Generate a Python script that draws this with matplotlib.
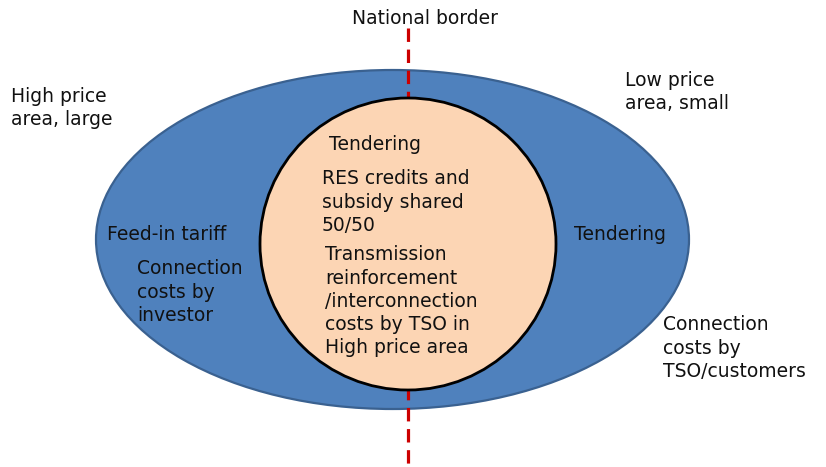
import matplotlib.pyplot as plt
from matplotlib.patches import Ellipse

# shapes (pixel coords of the 826x467 canvas, y down)
outer_center = (392.5, 239.5)
outer_size = (593, 339)
inner_center = (408, 244)
inner_size = (296, 292)
border_x = 408
border_y = (28, 466)

# text blocks: (left x, first-line center y, lines)
labels = [
    (352, 18, ["National border"]),
    (11, 96, ["High price", "area, large"]),
    (625, 80, ["Low price", "area, small"]),
    (107, 234, ["Feed-in tariff"]),
    (137, 269, ["Connection", "costs by", "investor"]),
    (329, 144, ["Tendering"]),
    (322, 179, ["RES credits and", "subsidy shared", "50/50"]),
    (325, 255, ["Transmission", "reinforcement", "/interconnection",
                "costs by TSO in", "High price area"]),
    (574, 234, ["Tendering"]),
    (663, 325, ["Connection", "costs by", "TSO/customers"]),
]
line_step = 23.2

fig = plt.figure(figsize=(8.26, 4.67), dpi=100)
ax = fig.add_axes([0, 0, 1, 1])
ax.set_xlim(0, 826)
ax.set_ylim(467, 0)
ax.axis('off')

ax.add_patch(Ellipse(outer_center, *outer_size, facecolor='#4f81bd',
                     edgecolor='#3a6190', lw=1.6, zorder=1))
ax.plot([border_x, border_x], border_y, color='#cc0000', lw=2.3,
        dashes=(4.2, 2.4), zorder=2)
ax.add_patch(Ellipse(inner_center, *inner_size, facecolor='#fcd5b4',
                     edgecolor='black', lw=2.0, zorder=3))

for x, y, lines in labels:
    for i, s in enumerate(lines):
        ax.text(x, y + i * line_step, s, fontsize=13.5, color='#111111',
                ha='left', va='center', family='DejaVu Sans', zorder=4)

fig.savefig('out.png', dpi=100)
